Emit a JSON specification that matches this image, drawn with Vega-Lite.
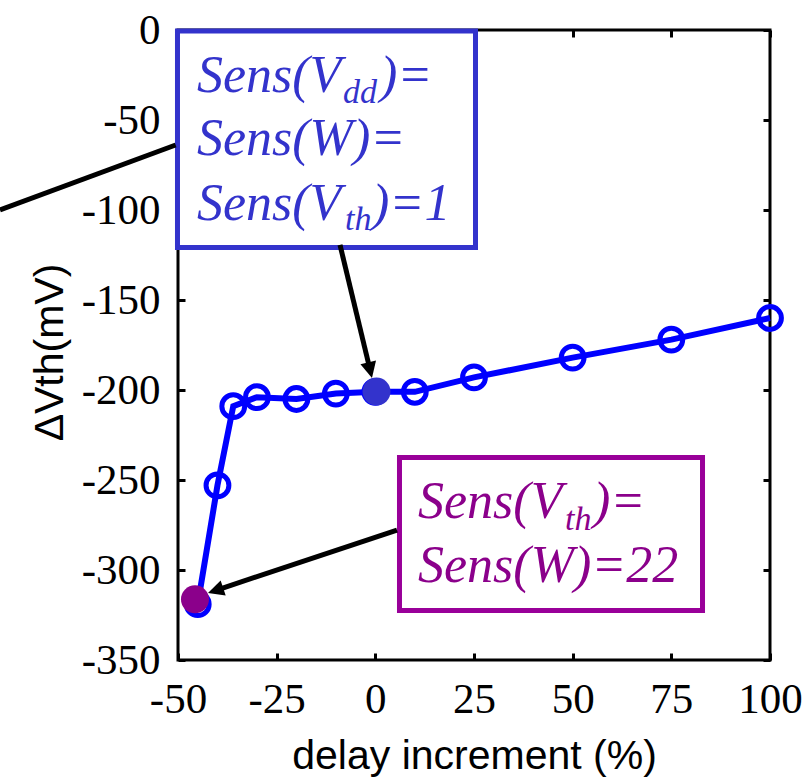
{
  "$schema": "https://vega.github.io/schema/vega-lite/v6.json",
  "width": 592,
  "height": 630,
  "autosize": {"type": "none"},
  "padding": {"left": 178, "top": 30, "right": 40, "bottom": 122},
  "background": "white",
  "config": {
    "view": {"stroke": "black", "strokeWidth": 3},
    "axis": {
      "grid": false,
      "domain": false,
      "tickColor": "black",
      "tickWidth": 3,
      "tickSize": -7,
      "labelFont": "Liberation Sans Narrow",
      "labelFontSize": 43,
      "labelColor": "black",
      "labelPadding": 25,
      "labelFlush": false,
      "labelOverlap": false,
      "labelExpr": "'' + datum.value",
      "titleFont": "Liberation Sans",
      "titleFontSize": 41,
      "titleFontWeight": "normal",
      "titleColor": "black"
    }
  },
  "datasets": {
    "series": [
      {"x": -45, "y": -319},
      {"x": -40, "y": -253},
      {"x": -36, "y": -209},
      {"x": -30, "y": -204},
      {"x": -20, "y": -205},
      {"x": -10, "y": -202},
      {"x": 0, "y": -201},
      {"x": 10, "y": -201},
      {"x": 25, "y": -193},
      {"x": 50, "y": -182},
      {"x": 75, "y": -172},
      {"x": 100, "y": -160}
    ],
    "dots": [
      {"x": 0.3, "y": -200.9, "group": "A"},
      {"x": -45.7, "y": -316.3, "group": "B"}
    ],
    "boxes": [
      {"x": -50.13, "x2": 25.38, "y": -0.56, "y2": -120.8, "group": "A"},
      {"x": 6.12, "x2": 82.9, "y": -237.5, "y2": -322.5, "group": "B"}
    ],
    "texts": [
      {"x": -45.19, "y": -34.44, "t": "Sens(V", "kind": "main", "group": "A"},
      {"x": -8.19, "y": -40.56, "t": "dd", "kind": "sub", "group": "A"},
      {"x": 1.18, "y": -34.44, "t": ")=", "kind": "main", "group": "A"},
      {"x": -45.19, "y": -69.44, "t": "Sens(W)=", "kind": "main", "group": "A"},
      {"x": -45.19, "y": -105.56, "t": "Sens(V", "kind": "main", "group": "A"},
      {"x": -7.69, "y": -111.11, "t": "th", "kind": "sub", "group": "A"},
      {"x": -0.85, "y": -105.56, "t": ")=1", "kind": "main", "group": "A"},
      {"x": 10.81, "y": -271.1, "t": "Sens(V", "kind": "main", "group": "B"},
      {"x": 48.06, "y": -277.8, "t": "th", "kind": "sub", "group": "B"},
      {"x": 55.15, "y": -271.1, "t": ")=", "kind": "main", "group": "B"},
      {"x": 10.81, "y": -306.7, "t": "Sens(W)=22", "kind": "main", "group": "B"}
    ],
    "rules": [
      {"x": -95.1, "y": -100, "x2": -50.6, "y2": -63.9},
      {"x": -8.95, "y": -119.4, "x2": -1.43, "y2": -187.9},
      {"x": 5.49, "y": -277.8, "x2": -39.99, "y2": -311.0}
    ],
    "heads": [
      {"x": -0.85, "y": -193.3, "arrow": 1},
      {"x": -42.4, "y": -312.8, "arrow": 2}
    ]
  },
  "layer": [
    {
      "layer": [
        {
          "data": {"name": "series"},
          "mark": {"type": "line", "color": "#0000FF", "strokeWidth": 6},
          "encoding": {
            "x": {
              "field": "x", "type": "quantitative",
              "scale": {"domain": [-50, 100], "nice": false, "zero": false},
              "axis": {"orient": "bottom", "values": [-50, -25, 0, 25, 50, 75, 100], "title": "delay increment (%)", "titleY": 108, "titleBaseline": "alphabetic"}
            },
            "y": {
              "field": "y", "type": "quantitative",
              "scale": {"domain": [-350, 0], "nice": false, "zero": false},
              "axis": {"orient": "left", "values": [-350, -300, -250, -200, -150, -100, -50, 0], "title": "ΔVth(mV)", "titleX": -116, "titleY": 322, "titleBaseline": "alphabetic", "titleAngle": -90}
            }
          }
        },
        {
          "data": {"name": "series"},
          "mark": {"type": "point", "shape": "circle", "filled": false, "stroke": "#0000FF", "strokeWidth": 5, "size": 520, "opacity": 1},
          "encoding": {
            "x": {"field": "x", "type": "quantitative"},
            "y": {"field": "y", "type": "quantitative"}
          }
        },
        {
          "data": {"name": "dots"},
          "mark": {"type": "point", "shape": "circle", "filled": true, "size": 784, "opacity": 1},
          "encoding": {
            "x": {"field": "x", "type": "quantitative"},
            "y": {"field": "y", "type": "quantitative"},
            "color": {"field": "group", "type": "nominal", "scale": {"domain": ["A", "B"], "range": ["#3333CC", "#8B008B"]}, "legend": null}
          }
        },
        {
          "data": {"name": "boxes"},
          "mark": {"type": "rect", "fill": "white", "strokeWidth": 5},
          "encoding": {
            "x": {"field": "x", "type": "quantitative"},
            "x2": {"field": "x2"},
            "y": {"field": "y", "type": "quantitative"},
            "y2": {"field": "y2"},
            "stroke": {"field": "group", "type": "nominal", "scale": {"domain": ["A", "B"], "range": ["#3333CC", "#990099"]}, "legend": null}
          }
        },
        {
          "data": {"name": "texts"},
          "transform": [{"filter": "datum.kind === 'main'"}],
          "mark": {"type": "text", "font": "Liberation Serif", "fontStyle": "italic", "fontSize": 52, "align": "left", "baseline": "alphabetic"},
          "encoding": {
            "x": {"field": "x", "type": "quantitative"},
            "y": {"field": "y", "type": "quantitative"},
            "text": {"field": "t"},
            "color": {"field": "group", "type": "nominal", "scale": {"domain": ["A", "B"], "range": ["#3333CC", "#990099"]}, "legend": null}
          }
        },
        {
          "data": {"name": "texts"},
          "transform": [{"filter": "datum.kind === 'sub'"}],
          "mark": {"type": "text", "font": "Liberation Serif", "fontStyle": "italic", "fontSize": 34, "align": "left", "baseline": "alphabetic"},
          "encoding": {
            "x": {"field": "x", "type": "quantitative"},
            "y": {"field": "y", "type": "quantitative"},
            "text": {"field": "t"},
            "color": {"field": "group", "type": "nominal", "scale": {"domain": ["A", "B"], "range": ["#3333CC", "#990099"]}, "legend": null}
          }
        },
        {
          "data": {"name": "rules"},
          "mark": {"type": "rule", "color": "black", "strokeWidth": 5, "strokeCap": "butt"},
          "encoding": {
            "x": {"field": "x", "type": "quantitative"},
            "y": {"field": "y", "type": "quantitative"},
            "x2": {"field": "x2"},
            "y2": {"field": "y2"}
          }
        },
        {
          "data": {"name": "heads"},
          "transform": [{"filter": "datum.arrow === 1"}],
          "mark": {"type": "point", "shape": "M0,0L-1,2L1,2Z", "filled": true, "color": "black", "size": 256, "opacity": 1, "angle": 166.5},
          "encoding": {
            "x": {"field": "x", "type": "quantitative"},
            "y": {"field": "y", "type": "quantitative"}
          }
        },
        {
          "data": {"name": "heads"},
          "transform": [{"filter": "datum.arrow === 2"}],
          "mark": {"type": "point", "shape": "M0,0L-1,2L1,2Z", "filled": true, "color": "black", "size": 256, "opacity": 1, "angle": 251.6},
          "encoding": {
            "x": {"field": "x", "type": "quantitative"},
            "y": {"field": "y", "type": "quantitative"}
          }
        }
      ]
    },
    {
      "data": {"values": [{"x": 0, "y": 0}]},
      "mark": {"type": "point", "opacity": 0},
      "encoding": {
        "x": {
          "field": "x", "type": "quantitative",
          "scale": {"domain": [-50, 100], "nice": false, "zero": false},
          "axis": {"orient": "top", "labels": false, "title": null, "values": [-50, -25, 0, 25, 50, 75, 100]}
        },
        "y": {
          "field": "y", "type": "quantitative",
          "scale": {"domain": [-350, 0], "nice": false, "zero": false},
          "axis": {"orient": "right", "labels": false, "title": null, "values": [-350, -300, -250, -200, -150, -100, -50, 0]}
        }
      }
    }
  ],
  "resolve": {"scale": {"x": "independent", "y": "independent"}}
}
